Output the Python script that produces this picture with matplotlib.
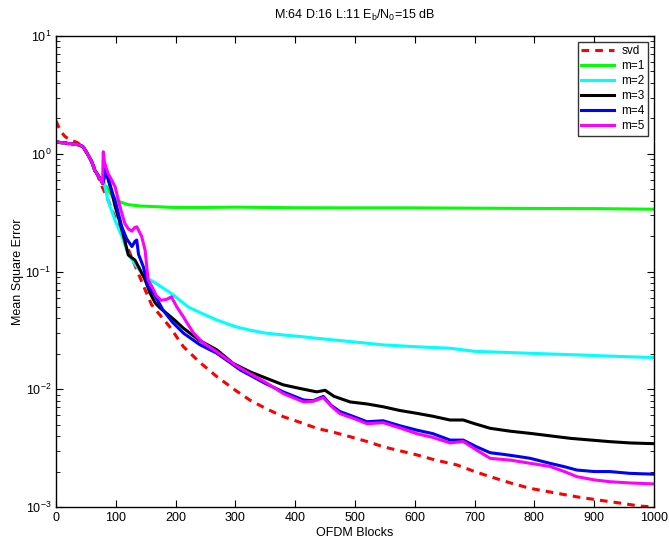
import matplotlib
matplotlib.use("Agg")
import matplotlib.pyplot as plt
from matplotlib.ticker import LogLocator, MultipleLocator, NullFormatter

plt.rcParams['font.family'] = ['Liberation Sans', 'DejaVu Sans']
plt.rcParams['mathtext.fontset'] = 'custom'
plt.rcParams['mathtext.rm'] = 'Liberation Sans'
plt.rcParams['mathtext.it'] = 'Liberation Sans'

# common start of adaptive curves
x_common = [0, 5, 10, 15, 20, 25, 30, 35, 40, 45, 50, 55, 60, 65, 70, 75, 78]
y_common = [1.27, 1.25, 1.24, 1.24, 1.22, 1.22, 1.20, 1.20, 1.18, 1.15, 1.05, 0.95, 0.85, 0.72, 0.66, 0.60, 0.56]

svd_x = [0, 3, 8, 15, 25, 35, 45, 55, 65, 76, 85, 95, 110, 127, 149, 160, 175, 190, 213, 240, 269, 300, 324, 350,
         380, 410, 436, 465, 492, 520, 547, 575, 600, 635, 670, 700, 726, 760, 793, 830, 871, 910, 949, 975, 1000]
svd_y = [1.9, 1.75, 1.55, 1.4, 1.3, 1.25, 1.15, 0.95, 0.75, 0.54, 0.43, 0.32, 0.21, 0.13, 0.07, 0.052, 0.042, 0.034,
         0.023, 0.017, 0.0128, 0.0098, 0.0081, 0.0069, 0.00585, 0.0052, 0.00466, 0.0043, 0.00395, 0.0036, 0.00325,
         0.0030, 0.0028, 0.0025, 0.00228, 0.0020, 0.00181, 0.0016, 0.00144, 0.00133, 0.00122, 0.00114, 0.00107,
         0.00102, 0.00100]

m1_x = [80, 85, 90, 95, 100, 107, 120, 140, 170, 196, 250, 300, 350, 400, 500, 600, 700, 800, 900, 1000]
m1_y = [0.55, 0.52, 0.47, 0.43, 0.41, 0.39, 0.37, 0.36, 0.355, 0.35, 0.35, 0.352, 0.35, 0.348, 0.347, 0.347,
        0.345, 0.343, 0.342, 0.338]

m2_x = [80, 87, 99, 110, 121, 135, 149, 166, 193, 221, 240, 269, 300, 324, 350, 380, 410, 436, 465,
        492, 520, 547, 600, 659, 700, 770, 830, 882, 940, 1000]
m2_y = [0.58, 0.4, 0.27, 0.2, 0.14, 0.11, 0.09, 0.08, 0.065, 0.05, 0.045, 0.0387, 0.034,
        0.0318, 0.030, 0.0289, 0.028, 0.0271, 0.0262, 0.0254, 0.0246, 0.0238, 0.023, 0.0223, 0.021, 0.0204, 0.0199,
        0.0195, 0.019, 0.0186]

m3_x = [80, 82, 85, 92, 99, 106, 113, 121, 132, 140, 149, 157, 166, 174, 190, 200, 213, 240, 269, 296, 324,
        350, 380, 410, 436, 450, 465, 492, 520, 547, 575, 603, 630, 659, 681, 700, 726, 760, 793, 830, 860, 895, 926,
        960, 1000]
m3_y = [0.62, 0.72, 0.66, 0.5, 0.355, 0.27, 0.2, 0.138, 0.125, 0.105, 0.085, 0.066, 0.054, 0.049, 0.042,
        0.038, 0.033, 0.026, 0.0216, 0.0166, 0.0141, 0.0125, 0.0109, 0.0101, 0.0095, 0.0098, 0.0087, 0.0078, 0.0075,
        0.0071, 0.0066, 0.00625, 0.0059, 0.00548, 0.00548, 0.0051, 0.00466, 0.0044, 0.00422, 0.0040, 0.00383, 0.0037,
        0.00359, 0.0035, 0.00345]

m4_x = [80, 82, 85, 93, 100, 110, 118, 127, 132, 135, 138, 146, 154, 165, 179, 195, 213, 240, 269, 290, 308, 324,
        350, 380, 414, 430, 447, 460, 475, 500, 520, 547, 575, 603, 630, 659, 681, 703, 726, 748, 770, 793, 826, 850,
        871, 900, 926, 960, 1000]
m4_y = [0.6, 0.74, 0.68, 0.49, 0.38, 0.24, 0.19, 0.163, 0.18, 0.185, 0.14, 0.11, 0.075, 0.063, 0.047, 0.037, 0.030,
        0.024, 0.0202, 0.017, 0.0146, 0.0132, 0.0112, 0.0095, 0.0081, 0.0080, 0.0087, 0.0073, 0.00646, 0.0058, 0.0053,
        0.0054, 0.0049, 0.0045, 0.0042, 0.0037, 0.0037, 0.00325, 0.00289, 0.0028, 0.0027, 0.00259, 0.00235, 0.0022,
        0.00206, 0.0020, 0.0020, 0.00193, 0.0019]

m5_x = [78, 79, 81, 87, 93, 99, 107, 115, 121, 127, 131, 135, 143, 149, 154, 160, 168, 176, 185, 193, 202, 212, 220,
        230, 245, 269, 300, 324, 350, 380, 414, 430, 447, 460, 475, 500, 520, 547, 575, 603, 630, 659, 681, 703, 726,
        760, 793, 826, 850, 871, 900, 926, 960, 1000]
m5_y = [0.6, 1.04, 0.85, 0.68, 0.6, 0.52, 0.355, 0.257, 0.23, 0.22, 0.235, 0.24, 0.20, 0.152, 0.085, 0.075, 0.062,
        0.057, 0.058, 0.061, 0.05, 0.042, 0.036, 0.030, 0.025, 0.0208, 0.016, 0.0136, 0.0115, 0.0092, 0.0078, 0.0079,
        0.0085, 0.0072, 0.0062, 0.0056, 0.0051, 0.0052, 0.0047, 0.0042, 0.0039, 0.0035, 0.0036, 0.00305, 0.00259,
        0.0025, 0.00235, 0.00221, 0.002, 0.00181, 0.0017, 0.00164, 0.0016, 0.00157]

series = [
    ("m=1", m1_x, m1_y, "#00ff00"),
    ("m=2", m2_x, m2_y, "#00ffff"),
    ("m=3", m3_x, m3_y, "#000000"),
    ("m=4", m4_x, m4_y, "#0000ff"),
    ("m=5", m5_x, m5_y, "#ff00ff"),
]

fig = plt.figure(figsize=(6.69, 5.43), dpi=100)
ax = fig.add_axes([56 / 669, 36 / 543, (654 - 56) / 669, (507 - 36) / 543])

lw = 2.2
ax.plot(svd_x, svd_y, color="#ff0000", lw=lw, linestyle=(0, (2.5, 2.0)), label="svd")
for name, xs, ys, c in series:
    ax.plot(x_common + xs, y_common + ys, color=c, lw=lw, label=name)

ax.set_yscale("log")
ax.set_xlim(0, 1000)
ax.set_ylim(1e-3, 1e1)
ax.xaxis.set_major_locator(MultipleLocator(100))
ax.yaxis.set_major_locator(LogLocator(base=10, numticks=10))
ax.yaxis.set_minor_locator(LogLocator(base=10, subs=range(2, 10), numticks=50))
ax.yaxis.set_minor_formatter(NullFormatter())
ax.tick_params(which="both", direction="in", top=True, right=True, labelsize=9)
ax.tick_params(which="major", length=5, width=0.8)
ax.tick_params(which="minor", length=3, width=0.6)
for s in ax.spines.values():
    s.set_linewidth(1.0)

ax.set_xlabel("OFDM Blocks", fontsize=9, labelpad=2)
ax.set_ylabel("Mean Square Error", fontsize=9, labelpad=1)
ax.set_title("M:64 D:16 L:11 $E_b/N_0$=15 dB", fontsize=9, pad=12)

leg = ax.legend(loc="upper right", fontsize=8.5, frameon=True, fancybox=False, edgecolor="black",
                borderpad=0.3, labelspacing=0.25, handlelength=2.8, handletextpad=0.6,
                borderaxespad=0.5)
leg.get_frame().set_linewidth(1.0)

fig.savefig("out.png", dpi=100)
